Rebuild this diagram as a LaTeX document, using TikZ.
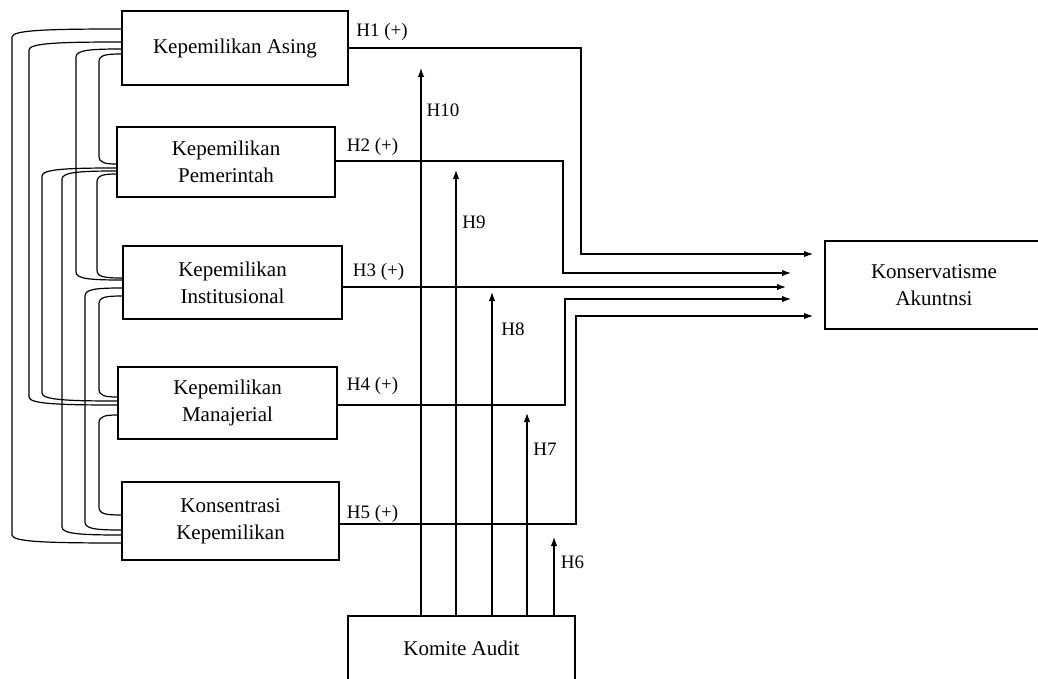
\documentclass[tikz,border=0pt]{standalone}
\usepackage{fontspec}
\setmainfont{Liberation Serif}
\usetikzlibrary{arrows.meta}
\tikzset{
  box/.style={draw, line width=1.2pt, inner sep=0pt, align=center,
              font=\fontsize{21}{27}\selectfont},
  lab/.style={inner sep=0pt, font=\fontsize{19}{23}\selectfont},
  link/.style={line width=1.2pt},
  hyp/.style={line width=1.2pt, -{Latex[length=9pt,width=6.5pt]}},
}
% correlation bracket between two ownership boxes:
% #1 first box, #2 its height, #3 second box, #4 its height, #5 x of the vertical run
\newcommand\corr[5]{%
  \draw[link] (#1.west |- 0,#2)
    .. controls ({#5+0.35*(118-#5)},#2) and (#5,#2+1) .. (#5,#2+8)
    -- (#5,#4-8)
    .. controls (#5,#4-1) and ({#5+0.35*(118-#5)},#4) .. (#3.west |- 0,#4);}

\begin{document}
\begin{tikzpicture}[x=1pt,y=-1pt]
\useasboundingbox (0,0) rectangle (1038,679);
\clip (0,0) rectangle (1038,679);

% ownership variables
\node[box, minimum width=226pt, minimum height=74pt] (asing)  at (235,48)    {Kepemilikan Asing};
\node[box, minimum width=218pt, minimum height=70pt] (pem)    at (226,162)   {Kepemilikan\\Pemerintah};
\node[box, minimum width=219pt, minimum height=73pt] (inst)   at (232.5,282.5) {Kepemilikan\\Institusional};
\node[box, minimum width=219pt, minimum height=72pt] (man)    at (227.5,403) {Kepemilikan\\Manajerial};
\node[box, minimum width=217pt, minimum height=78pt] (konsen) at (230.5,521) {Konsentrasi\\Kepemilikan};

% dependent variable and moderator
\node[box, minimum width=218pt, minimum height=88pt] (konserv) at (934,285)  {Konservatisme\\Akuntnsi};
\node[box, minimum width=227pt, minimum height=64pt] (komite)  at (461.5,648) {Komite Audit};

% correlations among the ownership variables
\corr{asing}{54}{pem}{164}{99}
\corr{asing}{49}{inst}{280}{76}
\corr{asing}{42}{man}{405}{29}
\corr{asing}{29}{konsen}{543}{12}
\corr{pem}{174}{inst}{278}{97}
\corr{pem}{168}{man}{401}{42}
\corr{pem}{171}{konsen}{535}{62}
\corr{inst}{296}{man}{397}{99}
\corr{inst}{288}{konsen}{530}{85}
\corr{man}{415}{konsen}{515}{99}

% arrow ends in front of the dependent variable
\coordinate (e1) at (813,254);
\coordinate (e2) at (791,273);
\coordinate (e3) at (786,287);
\coordinate (e4) at (791,299);
\coordinate (e5) at (813,316);

% direct hypotheses H1-H5
\draw[hyp] (asing.east) -| (581,254) -- (e1);
\draw[hyp] (pem.east |- 0,161) -| (563,273) -- (e2);
\draw[hyp] (inst.east |- 0,287) -- (e3);
\draw[hyp] (man.east |- 0,405) -| (565,299) -- (e4);
\draw[hyp] (konsen.east |- 0,524) -| (576,316) -- (e5);

% moderating hypotheses H6-H10
\coordinate (t10) at (421,68);
\coordinate (t9)  at (456,170);
\coordinate (t8)  at (492,292);
\coordinate (t7)  at (527,413);
\coordinate (t6)  at (554,537);
\draw[hyp] (komite.north -| t10) -- (t10);
\draw[hyp] (komite.north -| t9)  -- (t9);
\draw[hyp] (komite.north -| t8)  -- (t8);
\draw[hyp] (komite.north -| t7)  -- (t7);
\draw[hyp] (komite.north -| t6)  -- (t6);

% hypothesis labels
\node[lab] (l1)  at (382,32)    {H1 (+)};
\node[lab] (l2)  at (372.5,147) {H2 (+)};
\node[lab] (l3)  at (378.5,272) {H3 (+)};
\node[lab] (l4)  at (372.5,385.5) {H4 (+)};
\node[lab] (l5)  at (372.5,514) {H5 (+)};
\node[lab] (l10) at (443,110)   {H10};
\node[lab] (l9)  at (474,222)   {H9};
\node[lab] (l8)  at (513,329)   {H8};
\node[lab] (l7)  at (545,449)   {H7};
\node[lab] (l6)  at (572.5,562) {H6};
\end{tikzpicture}
\end{document}
